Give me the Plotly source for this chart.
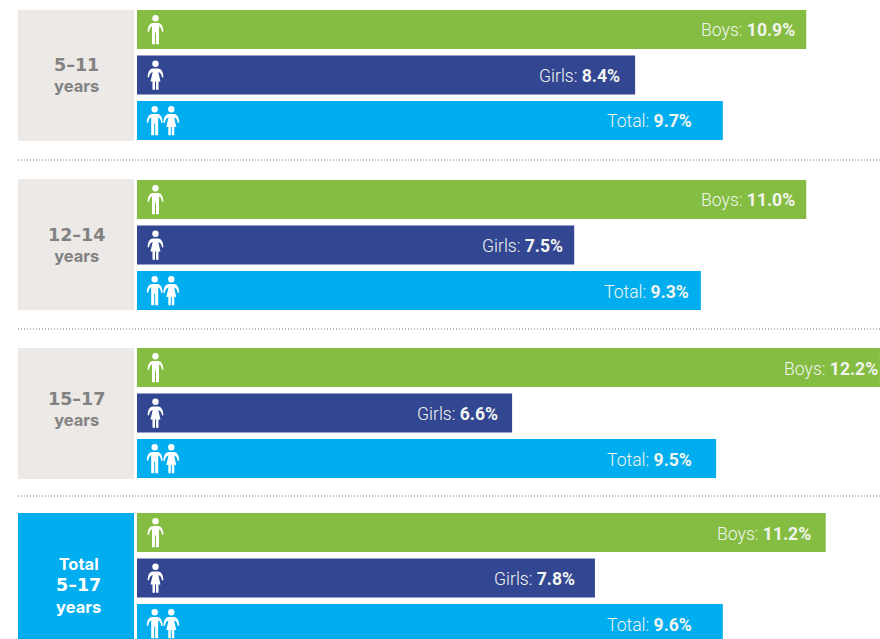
import plotly.graph_objects as go

groups = ["5–11<br>years", "12–14<br>years", "15–17<br>years", "Total<br>5–17<br>years"]
categories = ["Boys", "Girls", "Total"]
printed_values = [
    ["10.9%", "8.4%", "9.7%"],
    ["11.0%", "7.5%", "9.3%"],
    ["12.2%", "6.6%", "9.5%"],
    ["11.2%", "7.8%", "9.6%"],
]
# bar lengths (the source bars are not strictly to scale with their labels)
bar_lengths = [
    [10.99, 8.18, 9.62],
    [10.99, 7.18, 9.26],
    [12.2, 6.16, 9.51],
    [11.31, 7.52, 9.62],
]

W, H = 880, 639
PX = 60.9
X0 = 137
GREEN, NAVY, CYAN = "#84bd41", "#324691", "#00aeef"
BOX, GREY = "#ece9e6", "#828282"
label_pad = [[9, 13, 29], [9, 9, 10], [0, 12, 22], [13, 18, 29]]
first_centre = [29.5, 199.5, 367.5, 532.5]
box_span = [(10, 141), (179, 310), (348, 479), (513, 639)]
box_label_y = [75, 245, 409, 585.5]
rule_y = [160, 329, 496]
PITCH = 45.5

xr = [-X0 / PX, (W - X0) / PX + 0.001]
fig = go.Figure()
layout = dict(width=W, height=H, autosize=False, margin=dict(l=0, r=0, t=0, b=0),
              paper_bgcolor="white", plot_bgcolor="rgba(0,0,0,0)", showlegend=False,
              bargap=0.143, font=dict(family="Inter"))
shapes, annos = [], []

def py(p):
    return 1 - p / H

def px_x(p):
    return p / W

def flip(cmds):
    out = []
    for c in cmds:
        if isinstance(c, str):
            out.append(c)
        else:
            out.append(f"{c[0]},{-c[1]}")
    return " ".join(out)

def head(dx):
    r, y = 3.2, -11.2
    return ["M", (dx - r, y), "Q", (dx - r, y - r), (dx, y - r), "Q", (dx + r, y - r), (dx + r, y),
            "Q", (dx + r, y + r), (dx, y + r), "Q", (dx - r, y + r), (dx - r, y), "Z"]

def boy(dx=0.0):
    body = ["M", (dx - 3, -6.4), "L", (dx + 3, -6.4), "Q", (dx + 7.5, -5.8), (dx + 8, 2), "L", (dx + 6.5, 2.4),
            "Q", (dx + 6, -2), (dx + 3.5, -3.2), "L", (dx + 3.5, 14.8), "L", (dx + 0.5, 14.8), "L", (dx + 0.5, 3),
            "L", (dx - 0.5, 3), "L", (dx - 0.5, 14.8), "L", (dx - 3.5, 14.8), "L", (dx - 3.5, -3.2),
            "Q", (dx - 6, -2), (dx - 6.5, 2.4), "L", (dx - 8, 2), "Q", (dx - 7.5, -5.8), (dx - 3, -6.4), "Z"]
    return flip(head(dx) + body)

def girl(dx=0.0):
    body = ["M", (dx - 3, -6.4), "L", (dx + 3, -6.4), "Q", (dx + 7.5, -5.8), (dx + 8, 2), "L", (dx + 6.5, 2.4),
            "Q", (dx + 6, -2), (dx + 2.8, -3), "L", (dx + 5, 6.5), "L", (dx + 3, 6.5), "L", (dx + 3, 14.8),
            "L", (dx + 0.5, 14.8), "L", (dx + 0.5, 6.5), "L", (dx - 0.5, 6.5), "L", (dx - 0.5, 14.8),
            "L", (dx - 3, 14.8), "L", (dx - 3, 6.5), "L", (dx - 5, 6.5), "L", (dx - 2.8, -3),
            "Q", (dx - 6, -2), (dx - 6.5, 2.4), "L", (dx - 8, 2), "Q", (dx - 7.5, -5.8), (dx - 3, -6.4), "Z"]
    return flip(head(dx) + body)

def box_text(name):
    lines = []
    for ln in name.split("<br>"):
        if ln[0].isdigit():
            lines.append(f"<span style='font-family:DejaVu Sans;font-size:17.5px'><b>{ln}</b></span>")
        else:
            lines.append(f"<b>{ln}</b>")
    return "<br>".join(lines)

for g, name in enumerate(groups):
    suffix = "" if g == 0 else str(g + 1)
    top = first_centre[g] - PITCH / 2
    bottom = top + 3 * PITCH
    lo = 2.5
    if bottom > H:
        lo = 2.5 - (bottom - H) / PITCH
        bottom = H
    layout["xaxis" + suffix] = dict(range=xr, domain=[0, 1], visible=False, fixedrange=True,
                                    anchor="y" + suffix)
    layout["yaxis" + suffix] = dict(type="category", categoryorder="array", categoryarray=categories,
                                    range=[lo, -0.5], domain=[py(bottom), py(top)], visible=False,
                                    fixedrange=True, anchor="x" + suffix)
    fig.add_trace(go.Bar(x=bar_lengths[g], y=categories, orientation="h",
                         marker=dict(color=[GREEN, NAVY, CYAN], line_width=0),
                         xaxis="x" + suffix, yaxis="y" + suffix, width=39 / PITCH,
                         hoverinfo="skip"))
    y0, y1 = box_span[g]
    is_total = g == 3
    shapes.append(dict(type="rect", xref="paper", yref="paper", x0=px_x(18), x1=px_x(134),
                       y0=py(y1), y1=py(y0), fillcolor=CYAN if is_total else BOX,
                       line_width=0, layer="below"))
    annos.append(dict(text=box_text(name), xref="paper", yref="paper",
                      x=px_x(78 if is_total else 76),
                      y=py(box_label_y[g]), showarrow=False,
                      xanchor="center", yanchor="middle", align="center",
                      font=dict(size=16.5, color="white" if is_total else GREY, family="Inter")))
    for i, cat in enumerate(categories):
        annos.append(dict(text=f"{cat}: <b>{printed_values[g][i]}</b>", xref="x" + suffix, yref="y" + suffix,
                          x=bar_lengths[g][i], y=cat, xshift=-label_pad[g][i], yshift=-1, showarrow=False,
                          xanchor="right", yanchor="middle",
                          font=dict(size=17.6, color="#f2f5f0", family="Roboto", weight=300)))
        paths = {"Boys": [(155.5, boy())], "Girls": [(155.5, girl())],
                 "Total": [(154.7, boy()), (171.3, girl())]}[cat]
        for ax, p in paths:
            shapes.append(dict(type="path", path=p, xsizemode="pixel", ysizemode="pixel",
                               xref="x" + suffix, yref="y" + suffix,
                               xanchor=(ax - X0) / PX, yanchor=cat,
                               fillcolor="white", line_width=0, layer="above"))

for y in rule_y:
    shapes.append(dict(type="line", xref="paper", yref="paper", x0=px_x(18), x1=1, y0=py(y), y1=py(y),
                       line=dict(color="#777777", width=1, dash="1px,2px")))

fig.update_layout(**layout, shapes=shapes, annotations=annos)
fig.write_html("out.html", config=dict(displayModeBar=False),
               post_script="document.body.style.margin='0';document.documentElement.style.overflow='hidden';")
